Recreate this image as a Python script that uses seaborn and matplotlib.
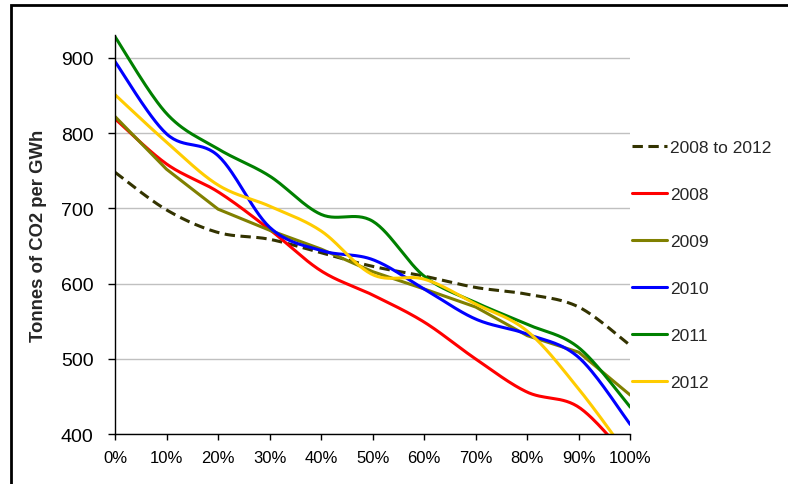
import numpy as np
import pandas as pd
import matplotlib
matplotlib.use("Agg")
import matplotlib.pyplot as plt
import seaborn as sns
from matplotlib.patches import Rectangle

# share of capacity (%) and tick labels
pct = [0, 10, 20, 30, 40, 50, 60, 70, 80, 90, 100]
pct_labels = ["0%", "10%", "20%", "30%", "40%", "50%", "60%", "70%", "80%", "90%", "100%"]

# tonnes of CO2 per GWh
avg_08_12 = [748, 698, 668, 659, 641, 623, 610, 595, 586, 569, 518]
y2008 = [819, 759, 722, 672, 617, 585, 549, 500, 456, 436, 365]
y2009 = [822, 752, 699, 671, 646, 616, 593, 569, 531, 509, 452]
y2010 = [895, 799, 770, 675, 644, 632, 593, 553, 533, 502, 413]
y2011 = [928, 826, 779, 743, 692, 683, 610, 575, 546, 515, 436]
y2012 = [851, 788, 731, 703, 670, 612, 606, 573, 537, 460, 368]

series = [
    ("2008 to 2012", avg_08_12, "#333300", True, True),
    ("2008", y2008, "#ff0000", True, False),
    ("2009", y2009, "#808000", False, False),
    ("2010", y2010, "#0000ff", True, False),
    ("2011", y2011, "#008000", True, False),
    ("2012", y2012, "#ffcc00", True, False),
]


def smooth(x, y, n=30):
    # excel-style smoothed line: bezier with catmull-rom control points
    x = np.asarray(x, float)
    y = np.asarray(y, float)
    p = np.column_stack([x, y])
    out = []
    for i in range(len(p) - 1):
        p0 = p[i - 1] if i > 0 else p[i]
        p1, p2 = p[i], p[i + 1]
        p3 = p[i + 2] if i + 2 < len(p) else p[i + 1]
        c1 = p1 + (p2 - p0) / 6
        c2 = p2 - (p3 - p1) / 6
        t = np.linspace(0, 1, n, endpoint=False)[:, None]
        seg = ((1 - t) ** 3) * p1 + 3 * ((1 - t) ** 2) * t * c1 + 3 * (1 - t) * t ** 2 * c2 + t ** 3 * p2
        out.append(seg)
    out.append(p[-1:])
    pts = np.vstack(out)
    return pts[:, 0], pts[:, 1]


sns.set_style("white")
plt.rcParams["font.family"] = ["Liberation Sans", "DejaVu Sans"]

fig = plt.figure(figsize=(7.88, 4.85), dpi=100)
ax = fig.add_axes([115 / 788, 1 - 435.3 / 485, (630.3 - 115) / 788, (435.3 - 36.2) / 485])

for name, vals, col, smoothed, dashed in series:
    if smoothed:
        xs, ys = smooth(pct, vals)
    else:
        xs, ys = np.array(pct, float), np.array(vals, float)
    df = pd.DataFrame({"x": xs, "y": ys})
    sns.lineplot(data=df, x="x", y="y", ax=ax, color=col, linewidth=2.2,
                 sort=False, estimator=None, label=name,
                 dashes=False)
    if dashed:
        ax.lines[-1].set_dashes([3.4, 1.8])

ax.set_xlim(0, 100)
ax.set_ylim(400, 930)
ax.set_xticks(pct)
ax.set_xticklabels(pct_labels)
ax.set_yticks([400, 500, 600, 700, 800, 900])
ax.yaxis.grid(True, color="#c0c0c0", linewidth=1)
ax.xaxis.grid(False)
ax.set_axisbelow(True)
for s in ["top", "right"]:
    ax.spines[s].set_visible(False)
for s in ["left", "bottom"]:
    ax.spines[s].set_color("black")
    ax.spines[s].set_linewidth(1)
ax.tick_params(axis="both", direction="out", width=1, color="black",
               labelcolor="black", left=True, bottom=True)
ax.tick_params(axis="x", length=4, labelsize=12, pad=7.5)
ax.tick_params(axis="y", length=5, labelsize=14, pad=10.5)
ax.set_xlabel("")
ax.set_ylabel("Tonnes of CO2 per GWh", fontsize=13.3, fontweight="bold", labelpad=10)

leg = ax.legend(loc="upper left", bbox_to_anchor=(632 / 788, 1 - 141 / 485),
                bbox_transform=fig.transFigure, frameon=False, fontsize=12.5,
                handlelength=2.0, handletextpad=0.17, labelspacing=1.83,
                borderaxespad=0, borderpad=0)

# outer chart border (cut off on the right and bottom)
fig.patches.append(Rectangle((11 / 788, -0.1), 1.2, 1 - 6 / 485 + 0.1,
                             transform=fig.transFigure, fill=False,
                             edgecolor="black", linewidth=2, zorder=10))

fig.savefig("out.png", dpi=100)
